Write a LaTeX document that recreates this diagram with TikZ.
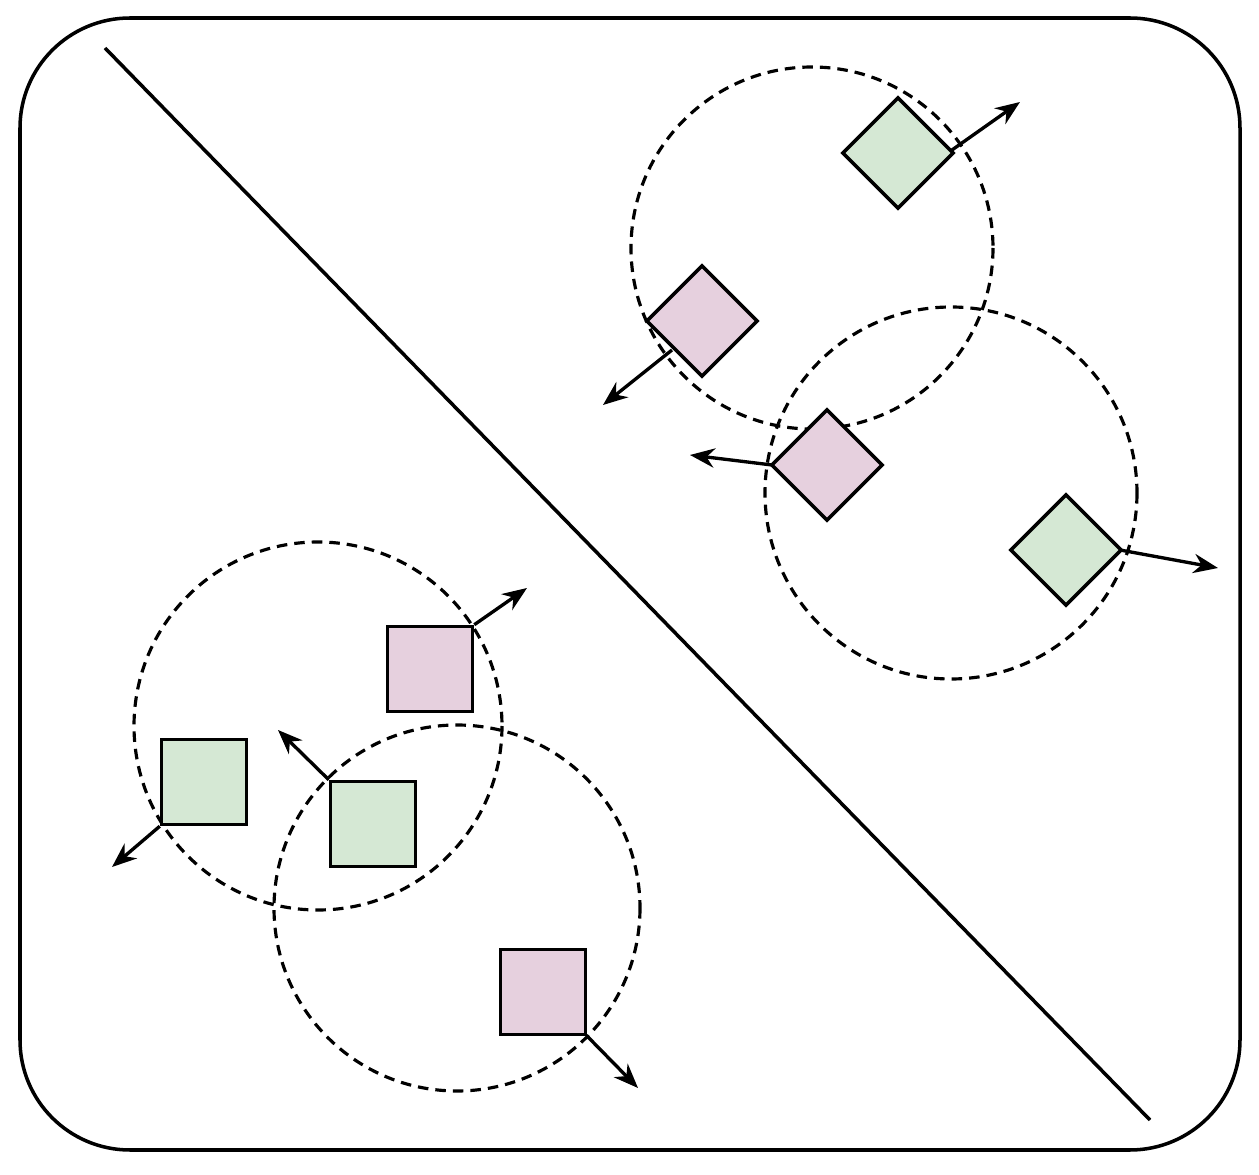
\documentclass[tikz,border=0pt]{standalone}
\usetikzlibrary{arrows.meta}
\begin{document}
\begin{tikzpicture}[x=0.02cm,y=-0.02cm,
 circ/.style={draw,line width=1.8pt,dash pattern=on 6pt off 4pt},
 sq/.style={draw,line width=2pt,minimum size=1.7cm,inner sep=0pt},
 dm/.style={draw,line width=2pt,minimum size=1.56cm,inner sep=0pt,rotate=45},
 arr/.style={-{Stealth[length=14pt,width=11pt]},line width=1.9pt}]
\definecolor{gfill}{HTML}{D5E8D4}
\definecolor{pfill}{HTML}{E6D0DE}
\useasboundingbox (0,0) rectangle (1259,1175);
\draw[line width=2pt,rounded corners=2.2cm] (20,18) rectangle (1240,1150);
\coordinate (d1) at (105,48); \coordinate (d2) at (1150,1120);
\draw[line width=2pt] (d1) -- (d2);
\draw[circ] (812,248) circle[radius=181];
\draw[circ] (951,493) circle[radius=186];
\draw[circ] (318,726) circle[radius=184];
\draw[circ] (457,908) circle[radius=183];
\node[dm,fill=gfill] (g1) at (898,153) {};
\node[dm,fill=pfill] (p1) at (702,321) {};
\node[dm,fill=pfill] (p2) at (827,465) {};
\node[dm,fill=gfill] (g2) at (1066,550) {};
\node[sq,fill=pfill] (p3) at (430,669) {};
\node[sq,fill=gfill] (g3) at (204,782) {};
\node[sq,fill=gfill] (g4) at (373,824) {};
\node[sq,fill=pfill] (p4) at (543,992) {};
\coordinate (a1) at (1020,102);
\coordinate (a2) at (603,405);
\coordinate (a3) at (690,455);
\coordinate (a4) at (1218,568);
\coordinate (a5) at (527,588);
\coordinate (a6) at (112,867);
\coordinate (a7) at (278,730);
\coordinate (a8) at (638,1088);
\draw[arr] (952,150) -- (a1);
\draw[arr] (672,350) -- (a2);
\draw[arr] (772,465) -- (a3);
\draw[arr] (1120,550) -- (a4);
\draw[arr] (p3.north east) -- (a5);
\draw[arr] (g3.south west) -- (a6);
\draw[arr] (g4.north west) -- (a7);
\draw[arr] (p4.south east) -- (a8);
\end{tikzpicture}
\end{document}
